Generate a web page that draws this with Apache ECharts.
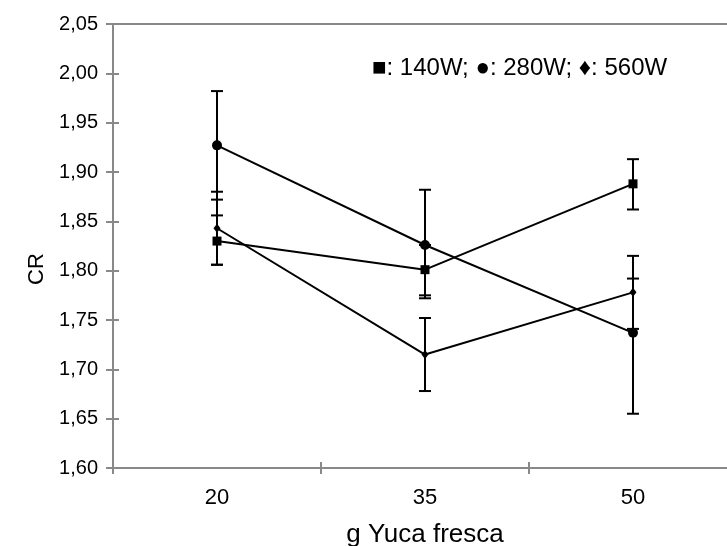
<!DOCTYPE html>
<html><head><meta charset="utf-8">
<script src="https://cdn.jsdelivr.net/npm/echarts@6/dist/echarts.min.js"></script>
<style>html,body{margin:0;padding:0;background:#fff}#c{width:727px;height:546px}</style>
</head><body><div id="c"></div>
<script>
const categories = ['20', '35', '50'];
const cr140 = [1.830, 1.801, 1.888];
const cr280 = [1.927, 1.826, 1.737];
const cr560 = [1.843, 1.715, 1.778];
const err140Plus = [0.026, 0.025, 0.025];
const err140Minus = [0.024, 0.026, 0.026];
const err280Plus = [0.055, 0.056, 0.055];
const err280Minus = [0.055, 0.054, 0.082];
const err560Plus = [0.037, 0.037, 0.037];
const err560Minus = [0.037, 0.037, 0.037];
const yMin = 1.60, yMax = 2.05, yStep = 0.05;
const legendText = '■: 140W; ●: 280W; ♦: 560W';
const xName = 'g Yuca fresca';
const yName = 'CR';

const FONT = 'Liberation Sans, Arial, sans-serif';
const AXIS_COLOR = '#898989';

function errData(vals, plus, minus) {
  return vals.map((v, i) => [i, v, plus[i], minus[i]]);
}
function renderErr(params, api) {
  const x = api.value(0), y = api.value(1), p = api.value(2), m = api.value(3);
  const top = api.coord([x, y + p]);
  const bot = api.coord([x, y - m]);
  const hw = 6;
  const st = { stroke: '#000', lineWidth: 2 };
  return {
    type: 'group',
    children: [
      { type: 'line', shape: { x1: top[0], y1: top[1], x2: bot[0], y2: bot[1] }, style: st },
      { type: 'line', shape: { x1: top[0] - hw, y1: top[1], x2: top[0] + hw, y2: top[1] }, style: st },
      { type: 'line', shape: { x1: bot[0] - hw, y1: bot[1], x2: bot[0] + hw, y2: bot[1] }, style: st }
    ]
  };
}
function errSeries(vals, plus, minus) {
  return {
    type: 'custom', renderItem: renderErr, data: errData(vals, plus, minus),
    encode: { x: 0, y: 1 }, z: 1, silent: true, clip: false
  };
}
function lineSeries(name, vals, symbol, size) {
  return {
    name, type: 'line', data: vals, symbol, symbolSize: size,
    lineStyle: { color: '#000', width: 2 },
    itemStyle: { color: '#000' }, z: 3
  };
}

const fmt = v => v.toFixed(2).replace('.', ',');
const chart = echarts.init(document.getElementById('c'));
chart.setOption({
  animation: false,
  backgroundColor: '#fff',
  title: {
    text: legendText, left: 367, top: 51,
    textStyle: { fontFamily: FONT, fontSize: 24, fontWeight: 'normal', color: '#000' }
  },
  grid: { left: 113, right: -10, top: 24, bottom: 78, containLabel: false, outerBoundsMode: 'none' },
  xAxis: [
    {
      type: 'category', data: categories, position: 'bottom', boundaryGap: true,
      axisLine: { show: true, lineStyle: { color: AXIS_COLOR, width: 2 } },
      axisTick: { show: true, length: 6, inside: false, interval: 0, lineStyle: { color: AXIS_COLOR, width: 2 } },
      axisLabel: { fontFamily: FONT, fontSize: 22, color: '#000', margin: 19 },
      name: xName, nameLocation: 'middle', nameGap: 54,
      nameTextStyle: { fontFamily: FONT, fontSize: 26, color: '#000' },
      splitLine: { show: false }
    },
    {
      type: 'category', data: categories, position: 'bottom', boundaryGap: true,
      axisLine: { show: false },
      axisTick: { show: true, length: 6, inside: true, interval: 0, lineStyle: { color: AXIS_COLOR, width: 2 } },
      axisLabel: { show: false }, splitLine: { show: false }
    },
    {
      type: 'category', data: categories, position: 'top', boundaryGap: true,
      axisLine: { show: true, lineStyle: { color: AXIS_COLOR, width: 2 } },
      axisTick: { show: false }, axisLabel: { show: false }, splitLine: { show: false }
    }
  ],
  yAxis: [
    {
      type: 'value', min: yMin, max: yMax, interval: yStep, position: 'left',
      axisLine: { show: true, lineStyle: { color: AXIS_COLOR, width: 2 } },
      axisTick: { show: true, length: 7, inside: false, lineStyle: { color: AXIS_COLOR, width: 2 } },
      axisLabel: { fontFamily: FONT, fontSize: 20, color: '#000', margin: 15, formatter: fmt },
      splitLine: { show: false },
      name: yName, nameLocation: 'middle', nameGap: 56, nameRotate: 90,
      nameTextStyle: { fontFamily: FONT, fontSize: 22, color: '#000', padding: [0, 46, 0, 0] }
    },
    {
      type: 'value', min: yMin, max: yMax, interval: yStep, position: 'left',
      axisLine: { show: false },
      axisTick: { show: true, length: 6, inside: true, lineStyle: { color: AXIS_COLOR, width: 2 } },
      axisLabel: { show: false }, splitLine: { show: false }
    }
  ],
  series: [
    errSeries(cr140, err140Plus, err140Minus),
    errSeries(cr280, err280Plus, err280Minus),
    errSeries(cr560, err560Plus, err560Minus),
    lineSeries('140W', cr140, 'rect', 9),
    lineSeries('280W', cr280, 'circle', 10),
    lineSeries('560W', cr560, 'diamond', [7, 9])
  ]
});
</script>
</body></html>
